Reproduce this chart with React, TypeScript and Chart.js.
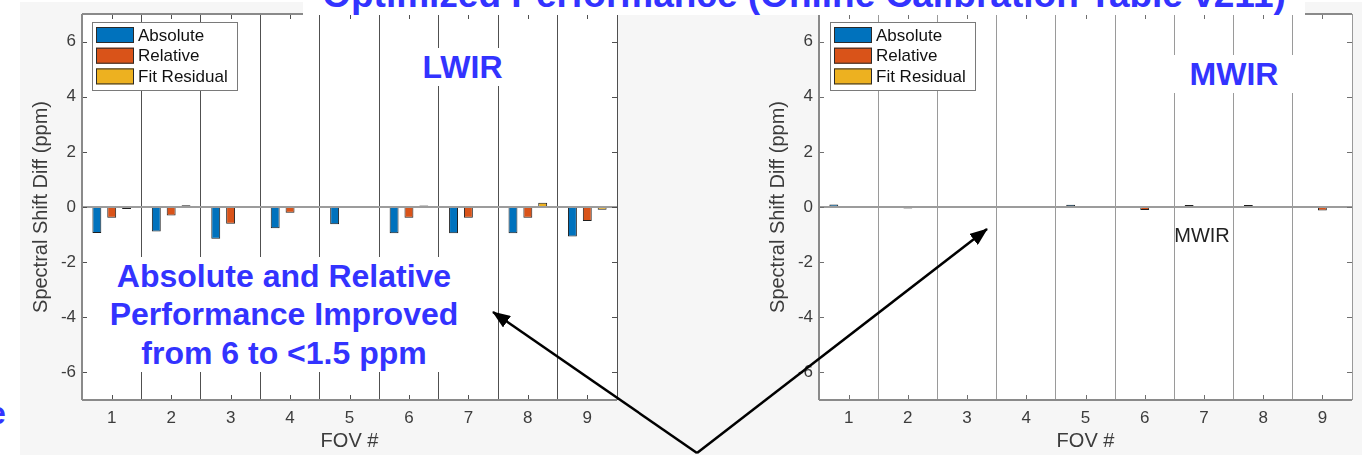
import React, { useEffect, useRef } from 'react';
import { Chart, registerables } from 'chart.js';

Chart.register(...registerables);

// ---------- data ----------
const categories = ['1', '2', '3', '4', '5', '6', '7', '8', '9'];
const yTickValues = [-6, -4, -2, 0, 2, 4, 6];
const seriesLabels = ['Absolute', 'Relative', 'Fit Residual'];
const seriesColors = ['#0072BD', '#D95319', '#EDB120'];

const lwirAbsolute = [-0.94, -0.89, -1.15, -0.77, -0.63, -0.95, -0.95, -0.95, -1.07];
const lwirRelative = [-0.39, -0.31, -0.61, -0.21, 0.0, -0.39, -0.39, -0.39, -0.51];
const lwirFitResidual = [-0.07, 0.06, -0.02, 0.0, 0.0, 0.05, -0.04, 0.15, -0.1];

const mwirAbsolute = [0.09, 0.03, 0.03, 0.04, 0.08, 0.0, 0.07, 0.07, -0.03];
const mwirRelative = [0.0, -0.05, -0.04, -0.04, 0.0, -0.11, 0.0, -0.04, -0.13];
const mwirFitResidual = [0.0, 0.0, -0.04, 0.03, 0.0, 0.0, -0.04, 0.0, 0.0];

const titleText = 'Optimized Performance (Online Calibration Table v211)';
const yAxisTitle = 'Spectral Shift Diff (ppm)';
const xAxisTitle = 'FOV #';

// ---------- styles ----------
const FONT = '"Liberation Sans", Arial, Helvetica, sans-serif';
const BLUE = '#3333ff';
const AXIS_TEXT = '#3c3c3c';
const H = 455;

const matlabAxesPlugin = {
  id: 'matlabAxes',
  beforeDraw(chart: any) {
    const { ctx, chartArea } = chart;
    const { left, top, right, bottom } = chartArea;
    ctx.save();
    ctx.fillStyle = '#ffffff';
    ctx.fillRect(left, top, right - left, bottom - top);
    ctx.restore();
  },
  afterDatasetsDraw(chart: any, _args: any, opts: any) {
    const { ctx, chartArea } = chart;
    const { left, top, right, bottom } = chartArea;
    const xs = chart.scales.x;
    const ys = chart.scales.y;
    const line = (x1: number, y1: number, x2: number, y2: number) => {
      ctx.beginPath();
      ctx.moveTo(x1, y1);
      ctx.lineTo(x2, y2);
      ctx.stroke();
    };
    ctx.save();
    // bar baseline at zero
    const y0 = ys.getPixelForValue(0);
    ctx.strokeStyle = '#9c9c9c';
    ctx.lineWidth = 2;
    line(left, y0, right, y0);
    // inward tick marks
    ctx.strokeStyle = opts.tickColor;
    ctx.lineWidth = 1;
    chart.data.labels.forEach((_l: string, i: number) => {
      const px = Math.round(xs.getPixelForValue(i)) + 0.5;
      line(px, bottom, px, bottom - 5);
      line(px, top, px, top + 5);
    });
    ys.ticks.forEach((t: any) => {
      const py = Math.round(ys.getPixelForValue(t.value)) + 0.5;
      line(left, py, left + 5, py);
      line(right, py, right - 5, py);
    });
    // box
    ctx.strokeStyle = '#8a8a8a';
    ctx.lineWidth = 2;
    line(left, top, right, top);
    line(left, top, left, bottom);
    line(left, bottom, right, bottom);
    // legend
    const bx = left + opts.legendDx;
    const by = top + 8;
    const bw = 145;
    const bh = 68;
    ctx.fillStyle = '#ffffff';
    ctx.fillRect(bx, by, bw, bh);
    ctx.strokeStyle = '#7a7a7a';
    ctx.lineWidth = 1;
    ctx.strokeRect(bx + 0.5, by + 0.5, bw, bh);
    ctx.font = '17px ' + FONT;
    ctx.textBaseline = 'middle';
    ctx.textAlign = 'left';
    chart.data.datasets.forEach((ds: any, i: number) => {
      const cy = by + 13 + i * 20.7;
      ctx.fillStyle = ds.backgroundColor;
      ctx.fillRect(bx + 4, cy - 8, 38, 16);
      ctx.strokeStyle = '#2a2a2a';
      ctx.strokeRect(bx + 4.5, cy - 7.5, 37, 15);
      ctx.fillStyle = '#111111';
      ctx.fillText(ds.label, bx + 46, cy + 1);
    });
    ctx.restore();
  },
};

function BarPanel(props: {
  left: number;
  width: number;
  rightPad: number;
  abs: number[];
  rel: number[];
  fit: number[];
  gridColor: string;
  tickColor: string;
  legendDx: number;
}) {
  const ref = useRef<HTMLCanvasElement>(null);
  useEffect(() => {
    const values = [props.abs, props.rel, props.fit];
    const chart = new Chart(ref.current as HTMLCanvasElement, {
      type: 'bar',
      data: {
        labels: categories,
        datasets: seriesLabels.map((label, i) => ({
          label,
          data: values[i],
          backgroundColor: seriesColors[i],
          borderColor: '#1e1e1e',
          borderWidth: 1,
          borderSkipped: false,
          categoryPercentage: 0.75,
          barPercentage: 0.6,
        })),
      },
      options: {
        responsive: false,
        animation: false,
        layout: { padding: { top: 14, right: props.rightPad, bottom: 0, left: 0 } },
        plugins: {
          legend: { display: false },
          tooltip: { enabled: false },
          matlabAxes: { tickColor: props.tickColor, legendDx: props.legendDx },
        } as any,
        scales: {
          x: {
            type: 'category',
            offset: true,
            grid: { display: true, offset: true, color: props.gridColor, lineWidth: 1, drawTicks: false },
            border: { display: false },
            ticks: { color: AXIS_TEXT, font: { family: FONT, size: 17 }, padding: 8, maxRotation: 0 },
            title: {
              display: true,
              text: xAxisTitle,
              color: AXIS_TEXT,
              font: { family: FONT, size: 20 },
              padding: { top: 0, bottom: 2 },
            },
            afterFit: (axis: any) => {
              axis.height = 55;
              axis.paddingLeft = 0;
              axis.paddingRight = 0;
            },
          },
          y: {
            type: 'linear',
            min: -7,
            max: 7,
            grid: { display: false, drawTicks: false },
            border: { display: false },
            afterBuildTicks: (axis: any) => {
              axis.ticks = yTickValues.map((v) => ({ value: v }));
            },
            ticks: { color: AXIS_TEXT, font: { family: FONT, size: 17 }, padding: 6 },
            title: {
              display: true,
              text: yAxisTitle,
              color: AXIS_TEXT,
              font: { family: FONT, size: 20 },
              padding: { top: 9, bottom: 0 },
            },
            afterFit: (axis: any) => {
              axis.width = 62;
              axis.paddingTop = 0;
              axis.paddingBottom = 0;
            },
          },
        },
      },
      plugins: [matlabAxesPlugin],
    } as any);
    return () => chart.destroy();
  }, []);
  return (
    <canvas
      ref={ref}
      width={props.width}
      height={H}
      style={{ position: 'absolute', left: props.left, top: 0, width: props.width, height: H }}
    />
  );
}

const boldBlue: React.CSSProperties = {
  position: 'absolute',
  fontFamily: FONT,
  fontWeight: 'bold',
  fontSize: 32,
  lineHeight: '38.4px',
  color: BLUE,
  whiteSpace: 'nowrap',
  textAlign: 'center',
};

export default function App() {
  return (
    <div
      style={{
        position: 'fixed',
        left: 0,
        top: 0,
        width: 1362,
        height: H,
        background: '#ffffff',
        overflow: 'hidden',
      }}
    >
      <div style={{ position: 'absolute', left: 20, top: 2, width: 1342, height: H - 2, background: '#f6f6f6' }} />
      <BarPanel
        left={20}
        width={600}
        rightPad={3}
        abs={lwirAbsolute}
        rel={lwirRelative}
        fit={lwirFitResidual}
        gridColor="#505050"
        tickColor="#505050"
        legendDx={10}
      />
      <BarPanel
        left={757}
        width={605}
        rightPad={10}
        abs={mwirAbsolute}
        rel={mwirRelative}
        fit={mwirFitResidual}
        gridColor="#9a9a9a"
        tickColor="#707070"
        legendDx={11}
      />

      {/* slide title, mostly cut off at top */}
      <div
        style={{
          position: 'absolute',
          left: 303,
          top: 0,
          width: 1002,
          height: 15,
          background: '#ffffff',
          overflow: 'hidden',
        }}
      >
        <div
          style={{
            position: 'absolute',
            left: 0,
            top: -24.3,
            width: 1002,
            textAlign: 'center',
            fontFamily: FONT,
            fontWeight: 'bold',
            fontSize: 37,
            lineHeight: '37px',
            color: BLUE,
            whiteSpace: 'nowrap',
          }}
        >
          {titleText}
        </div>
      </div>

      {/* annotations */}
      <div style={{ ...boldBlue, left: 410, top: 48, width: 105, background: '#ffffff' }}>LWIR</div>
      <div style={{ ...boldBlue, left: 1170, top: 55, width: 128, background: '#ffffff' }}>MWIR</div>
      <div style={{ ...boldBlue, left: 100, top: 256.8, width: 368, background: '#ffffff' }}>
        Absolute and Relative
        <br />
        Performance Improved
        <br />
        from 6 to &lt;1.5 ppm
      </div>
      <div
        style={{
          position: 'absolute',
          left: 1150,
          top: 223,
          width: 104,
          textAlign: 'center',
          fontFamily: FONT,
          fontSize: 20,
          lineHeight: '24px',
          color: '#222222',
        }}
      >
        MWIR
      </div>
      <div style={{ ...boldBlue, left: -12, top: 394, textAlign: 'left' }}>e</div>

      {/* arrows */}
      <svg
        width={1362}
        height={H}
        style={{ position: 'absolute', left: 0, top: 0 }}
      >
        <defs>
          <marker
            id="arrowHead"
            markerUnits="userSpaceOnUse"
            markerWidth={18}
            markerHeight={14}
            refX={17}
            refY={7}
            orient="auto"
          >
            <path d="M0,0 L18,7 L0,14 z" fill="#000000" />
          </marker>
        </defs>
        <line x1={697} y1={453} x2={493} y2={312} stroke="#000000" strokeWidth={2.5} markerEnd="url(#arrowHead)" />
        <line x1={697} y1={453} x2={987} y2={229} stroke="#000000" strokeWidth={2.5} markerEnd="url(#arrowHead)" />
      </svg>
    </div>
  );
}
